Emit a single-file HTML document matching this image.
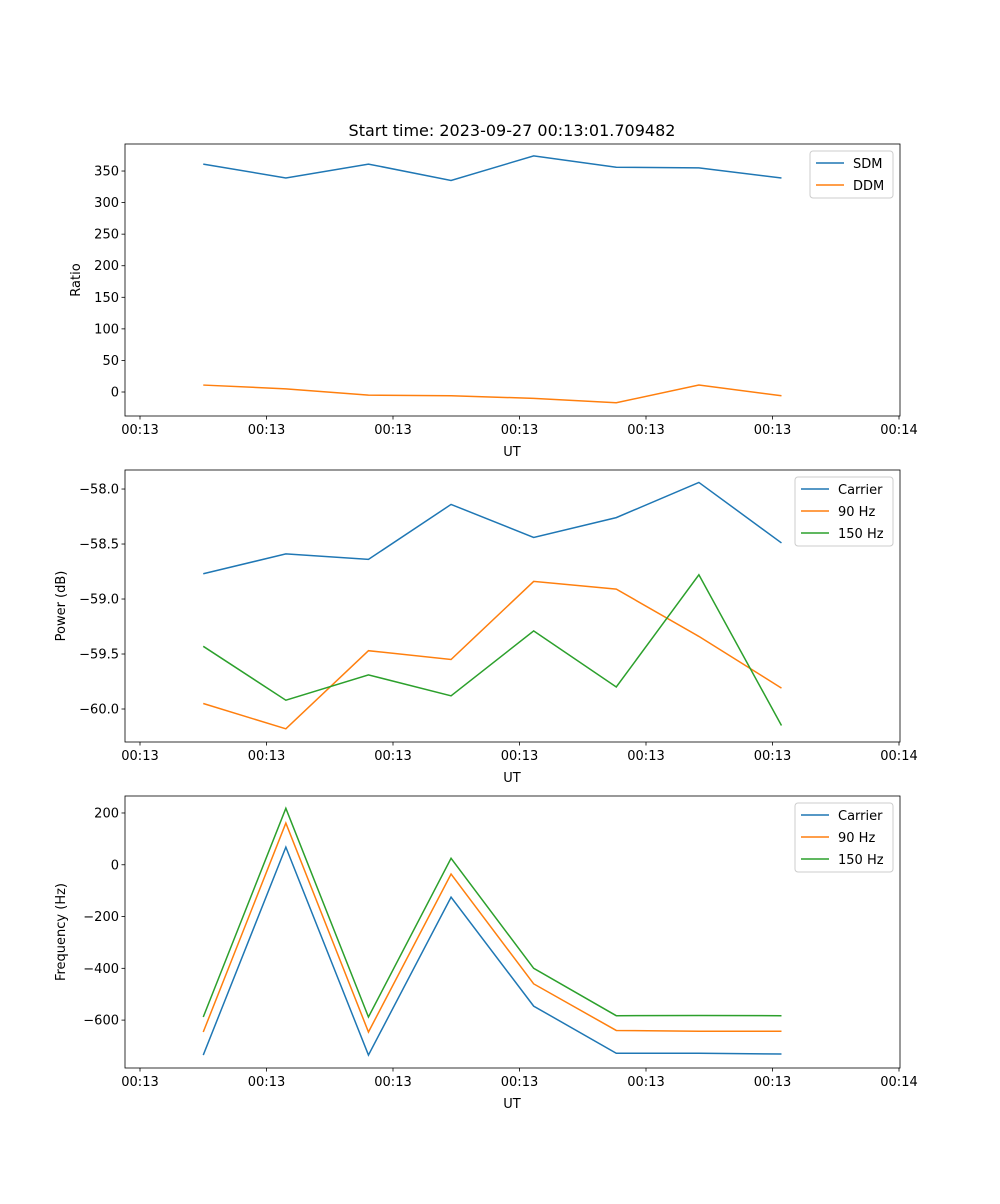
<!DOCTYPE html>
<html><head><meta charset="utf-8"><style>
body{margin:0;background:#fff;font-family:"DejaVu Sans","Liberation Sans",sans-serif;}
svg text{font-family:"DejaVu Sans","Liberation Sans",sans-serif;fill:#000;}
</style></head><body>
<svg id="fig" width="1000" height="1200" xmlns="http://www.w3.org/2000/svg">
<rect width="1000" height="1200" fill="#fff"/>
<text x="512" y="136" font-size="16" text-anchor="middle">Start time: 2023-09-27 00:13:01.709482</text>
</svg>
<script>
const xTickLabels=["00:13","00:13","00:13","00:13","00:13","00:13","00:14"];
const xTickVals=[0,10,20,30,40,50,60];
const xVals=[5,11.53,18.06,24.59,31.12,37.65,44.18,50.71];
const sdm=[361,339,361,335,374,356,355,339];
const ddm=[11,5,-5,-6,-10,-17,11,-6];
const pCarrier=[-58.77,-58.59,-58.64,-58.14,-58.44,-58.26,-57.94,-58.49];
const p90=[-59.95,-60.18,-59.47,-59.55,-58.84,-58.91,-59.34,-59.81];
const p150=[-59.43,-59.92,-59.69,-59.88,-59.29,-59.80,-58.78,-60.15];
const fCarrier=[-735,68,-735,-125,-546,-728,-728,-731];
const f90=[-646,161,-646,-36,-460,-640,-643,-643];
const f150=[-588,218,-588,25,-400,-583,-582,-583];
const yTicks1=[0,50,100,150,200,250,300,350];
const yTicks2=[-60.0,-59.5,-59.0,-58.5,-58.0];
const yTicks3=[-600,-400,-200,0,200];
const NS="http://www.w3.org/2000/svg";
const svg=document.getElementById('fig');
const C=["#1f77b4","#ff7f0e","#2ca02c"];
function el(t,a,p){const e=document.createElementNS(NS,t);for(const k in a)e.setAttribute(k,a[k]);(p||svg).appendChild(e);return e;}
const L=125,R=900;
function xs(t){return 140+t*12.65;}
function panel(id,top,bot,ymin,ymax,yTicks,yFmt,ylabel,series,names,legW){
  const g=el('g',{});
  
  
  const ys=v=>bot-(v-ymin)/(ymax-ymin)*(bot-top);
  series.forEach((s,i)=>{
    const p=el('polyline',{points:s.map((v,j)=>xs(xVals[j])+','+ys(v)).join(' '),fill:'none',stroke:C[i],'stroke-width':1.5},g);
    
    
  });
  el('rect',{x:L,y:top,width:R-L,height:bot-top,fill:'none',stroke:'#000','stroke-width':0.8},g);
  xTickVals.forEach((t,i)=>{const x=xs(t);
    el('line',{x1:x,x2:x,y1:bot,y2:bot+3.5,stroke:'#000','stroke-width':0.8},g);
    const tx=el('text',{x:x,y:bot+18,'font-size':13,'text-anchor':'middle'},g);tx.textContent=xTickLabels[i];
    
    
  });
  yTicks.forEach(v=>{const y=ys(v);
    el('line',{x1:L-3.5,x2:L,y1:y,y2:y,stroke:'#000','stroke-width':0.8},g);
    const tx=el('text',{x:L-6,y:y+4.5,'font-size':13,'text-anchor':'end'},g);tx.textContent=yFmt(v);
    
    
  });
  const xl=el('text',{x:512,y:bot+40,'font-size':13,'text-anchor':'middle'},g);xl.textContent='UT';
  
  
  const my=(top+bot)/2, lx=id==='ratio'?80:65;
  const yl=el('text',{x:lx,y:my,'font-size':13,'text-anchor':'middle',transform:`rotate(-90 ${lx} ${my})`},g);yl.textContent=ylabel;
  
  
  const lg=el('g',{},g);
  
  
  const lx0=893-legW;
  el('rect',{x:lx0,y:top+7,width:legW,height:names.length*22+3,fill:'#fff',stroke:'#ccc',rx:3},lg);
  names.forEach((n,i)=>{const y=top+19+i*22;
    el('line',{x1:lx0+6,x2:lx0+34,y1:y,y2:y,stroke:C[i],'stroke-width':1.5},lg);
    const t=el('text',{x:lx0+43,y:y+5,'font-size':13},lg);t.textContent=n;
    
    
  });
}
const minus=s=>s.replace('-','\u2212');
panel('ratio',144,416,-38,392.8,yTicks1,v=>minus(String(v)),'Ratio',[sdm,ddm],['SDM','DDM'],83);
panel('power',470,742,-60.3,-57.827,yTicks2,v=>minus(v.toFixed(1)),'Power (dB)',[pCarrier,p90,p150],['Carrier','90 Hz','150 Hz'],98);
panel('frequency',796,1068,-785,265.6,yTicks3,v=>minus(String(v)),'Frequency (Hz)',[fCarrier,f90,f150],['Carrier','90 Hz','150 Hz'],98);
</script>
</body></html>
